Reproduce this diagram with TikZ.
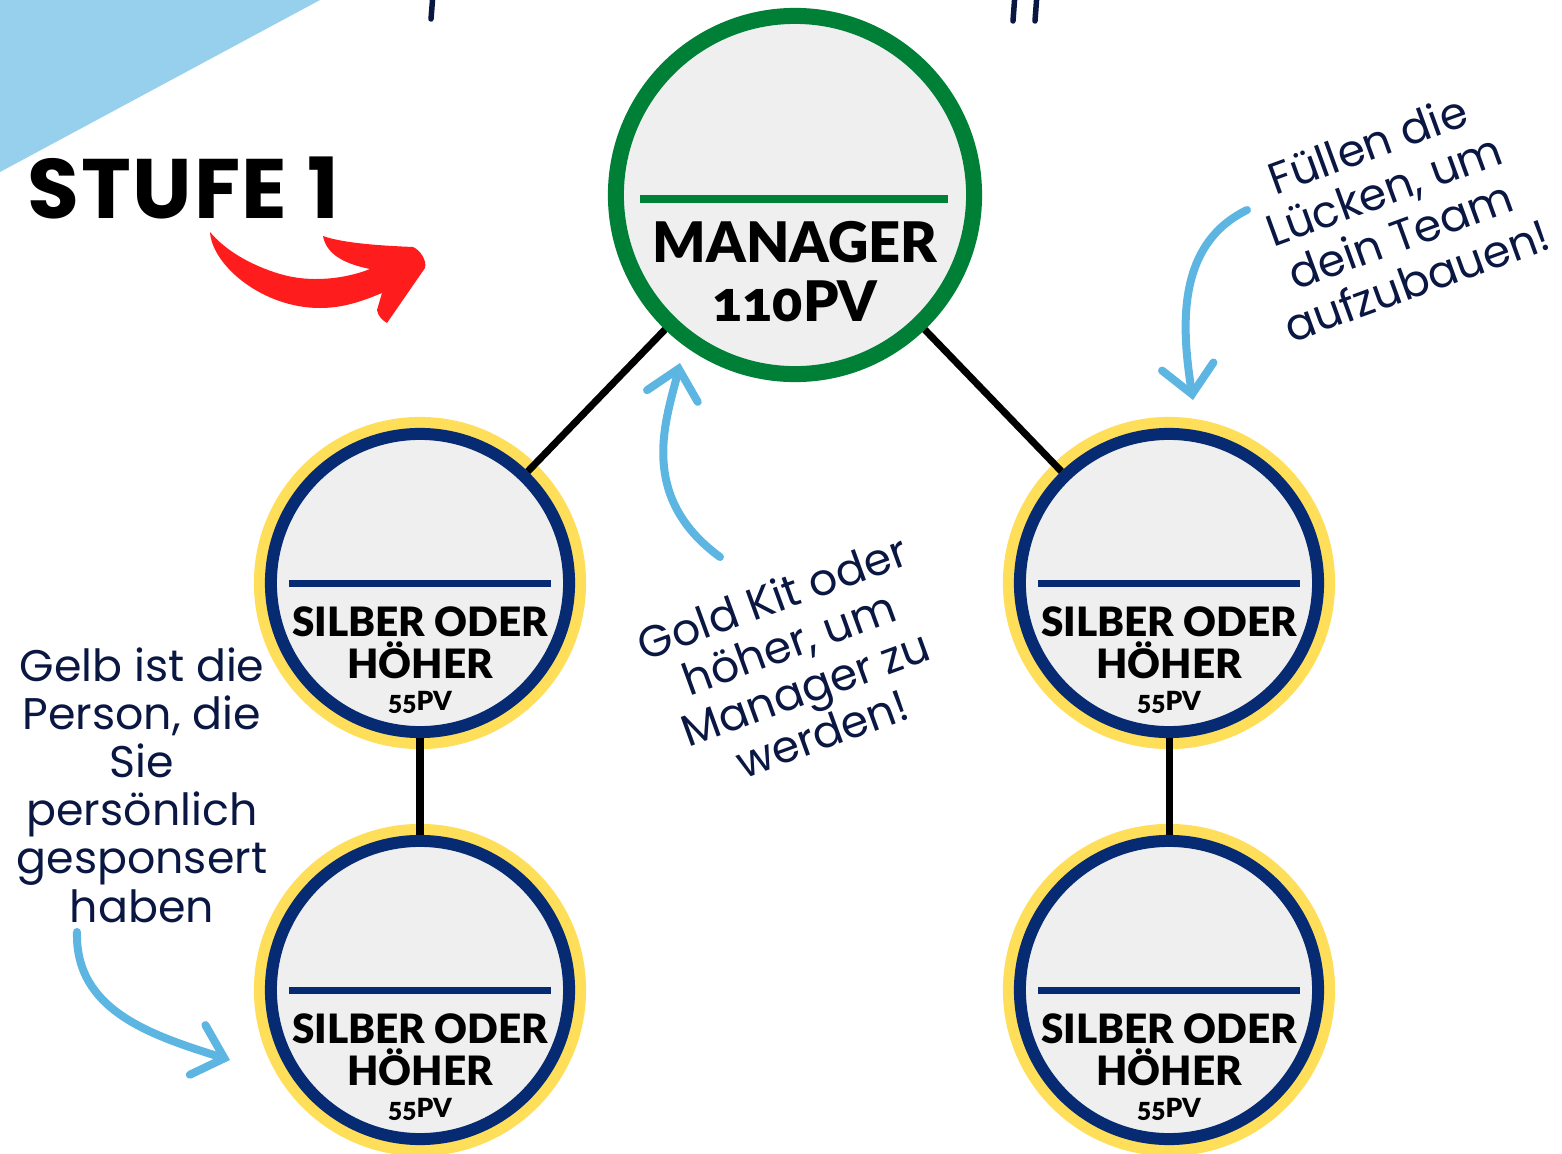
\documentclass[tikz,border=0pt]{standalone}
\usepackage{fontspec}
\setmainfont{Fira Sans}
\newfontfamily\labelfont[Numbers=OldStyle, BoldFont={Lato Black}]{Lato}
\newfontfamily\stufefont[LetterSpace=2]{Poppins}
\newfontfamily\handfont{Poppins}
\usetikzlibrary{arrows.meta}
\definecolor{mgrgreen}{HTML}{008037}
\definecolor{membernavy}{HTML}{072B73}
\definecolor{memberyellow}{HTML}{FFDE59}
\definecolor{circfill}{HTML}{EFEFEF}
\definecolor{cornerblue}{HTML}{97D0EC}
\definecolor{handnavy}{HTML}{0A1742}
\definecolor{hintblue}{HTML}{5DB6E2}
\definecolor{stufered}{HTML}{FF1C1C}
\begin{document}
\begin{tikzpicture}[
        x=0.01cm, y=-0.01cm,
        mgrcircle/.style={circle, draw=mgrgreen, line width=0.16cm, fill=circfill, minimum size=3.58cm, inner sep=0pt},
        membercircle/.style={circle, draw=membernavy, line width=0.12cm, fill=circfill, minimum size=2.98cm, inner sep=0pt,
            preaction={draw=memberyellow, line width=0.34cm}},
        link/.style={line width=0.07cm, black},
        mgrdiv/.style={draw=mgrgreen, line width=0.08cm},
        memberdiv/.style={draw=membernavy, line width=0.07cm},
        mgrtext/.style={font=\labelfont\bfseries\fontsize{15.9}{19}\selectfont, anchor=base, inner sep=0pt},
        membertext/.style={font=\labelfont\bfseries\fontsize{11.5}{14}\selectfont, anchor=base, inner sep=0pt},
        pvtext/.style={font=\labelfont\bfseries\fontsize{7.5}{9}\selectfont, anchor=base, inner sep=0pt},
        hand/.style={font=\handfont\fontsize{12.6}{13.7}\selectfont, text=handnavy, align=center, inner sep=0pt},
        hint/.style={draw=hintblue, line width=0.08cm, line cap=round, line join=round,
            -{Straight Barb[length=0.28cm, width=0.52cm, line cap=round]}},
        titlestroke/.style={draw=handnavy, line width=0.055cm, line cap=round}
    ]
    \useasboundingbox (0,0) rectangle (1562,1154);
    % corner and cut-off title
    \fill[cornerblue] (0,0) -- (320,0) -- (0,172) -- cycle;
    \draw[titlestroke] (433,-6) -- (431,19);
    \draw[titlestroke] (1015,-6) -- (1013,21);
    \draw[titlestroke] (1037,-6) -- (1035,21);

    \node[font=\stufefont\bfseries\fontsize{24}{27}\selectfont, anchor=base west, inner sep=0pt] (stufe) at (27,218) {STUFE 1};
    \fill[stufered] (210,232) .. controls (212,265) and (262,308) .. (320,308)
        .. controls (345,308) and (365,300) .. (382,293) -- (377,310)
        .. controls (378,316) and (382,320) .. (387,323) -- (425,268)
        .. controls (427,260) and (420,250) .. (413,247)
        .. controls (390,246) and (345,244) .. (323,236)
        .. controls (326,252) and (340,263) .. (370,269)
        .. controls (345,279) and (310,283) .. (280,274)
        .. controls (250,265) and (225,250) .. (210,232) -- cycle;

    % tree
    \node[mgrcircle] (mgr) at (795,195) {};
    \node[membercircle] (sl) at (420,583) {};
    \node[membercircle] (sr) at (1169,583) {};
    \node[membercircle] (bl) at (420,990) {};
    \node[membercircle] (br) at (1169,990) {};
    \draw[link] (mgr) -- (sl);
    \draw[link] (mgr) -- (sr);
    \draw[link] (sl) -- (bl);
    \draw[link] (sr) -- (br);

    \draw[mgrdiv] ([xshift=-1.55cm, yshift=-0.04cm]mgr.center) -- ([xshift=1.53cm, yshift=-0.04cm]mgr.center);
    \node[mgrtext] (mgrname) at ([yshift=-0.67cm]mgr.center) {MANAGER};
    \node[mgrtext] (mgrpv) at ([yshift=-1.26cm]mgr.center) {110PV};
    \foreach \m in {sl, sr, bl, br} {
        \draw[memberdiv] ([xshift=-1.31cm]\m.center) -- ([xshift=1.31cm]\m.center);
        \node[membertext] (\m-rank) at ([yshift=-0.53cm]\m.center) {SILBER ODER};
        \node[membertext] (\m-more) at ([yshift=-0.95cm]\m.center) {HÖHER};
        \node[pvtext] (\m-pv) at ([yshift=-1.27cm]\m.center) {55PV};
    }

    % notes
    \node[hand, rotate=20] (goldnote) at (797,665) {Gold Kit oder\\höher, um\\Manager zu\\werden!};
    \node[hand, rotate=20] (gapnote) at (1392,212) {Füllen die\\Lücken, um\\dein Team\\aufzubauen!};
    \node[hand] (yellownote) at (142,785) {Gelb ist die\\Person, die\\Sie\\persönlich\\gesponsert\\haben};
    \coordinate (goldtail) at (720,557);
    \coordinate (goldtip) at (680,363);
    \coordinate (gaptail) at (1247,210);
    \coordinate (gaptip) at (1193,400);
    \coordinate (yellowtail) at (77,932);
    \coordinate (yellowtip) at (230,1060);
    \draw[hint] (goldtail) .. controls (635,495) and (668,415) .. (goldtip);
    \draw[hint] (gaptail) .. controls (1175,245) and (1182,330) .. (gaptip);
    \draw[hint] (yellowtail) .. controls (75,1010) and (150,1035) .. (yellowtip);
\end{tikzpicture}
\end{document}
